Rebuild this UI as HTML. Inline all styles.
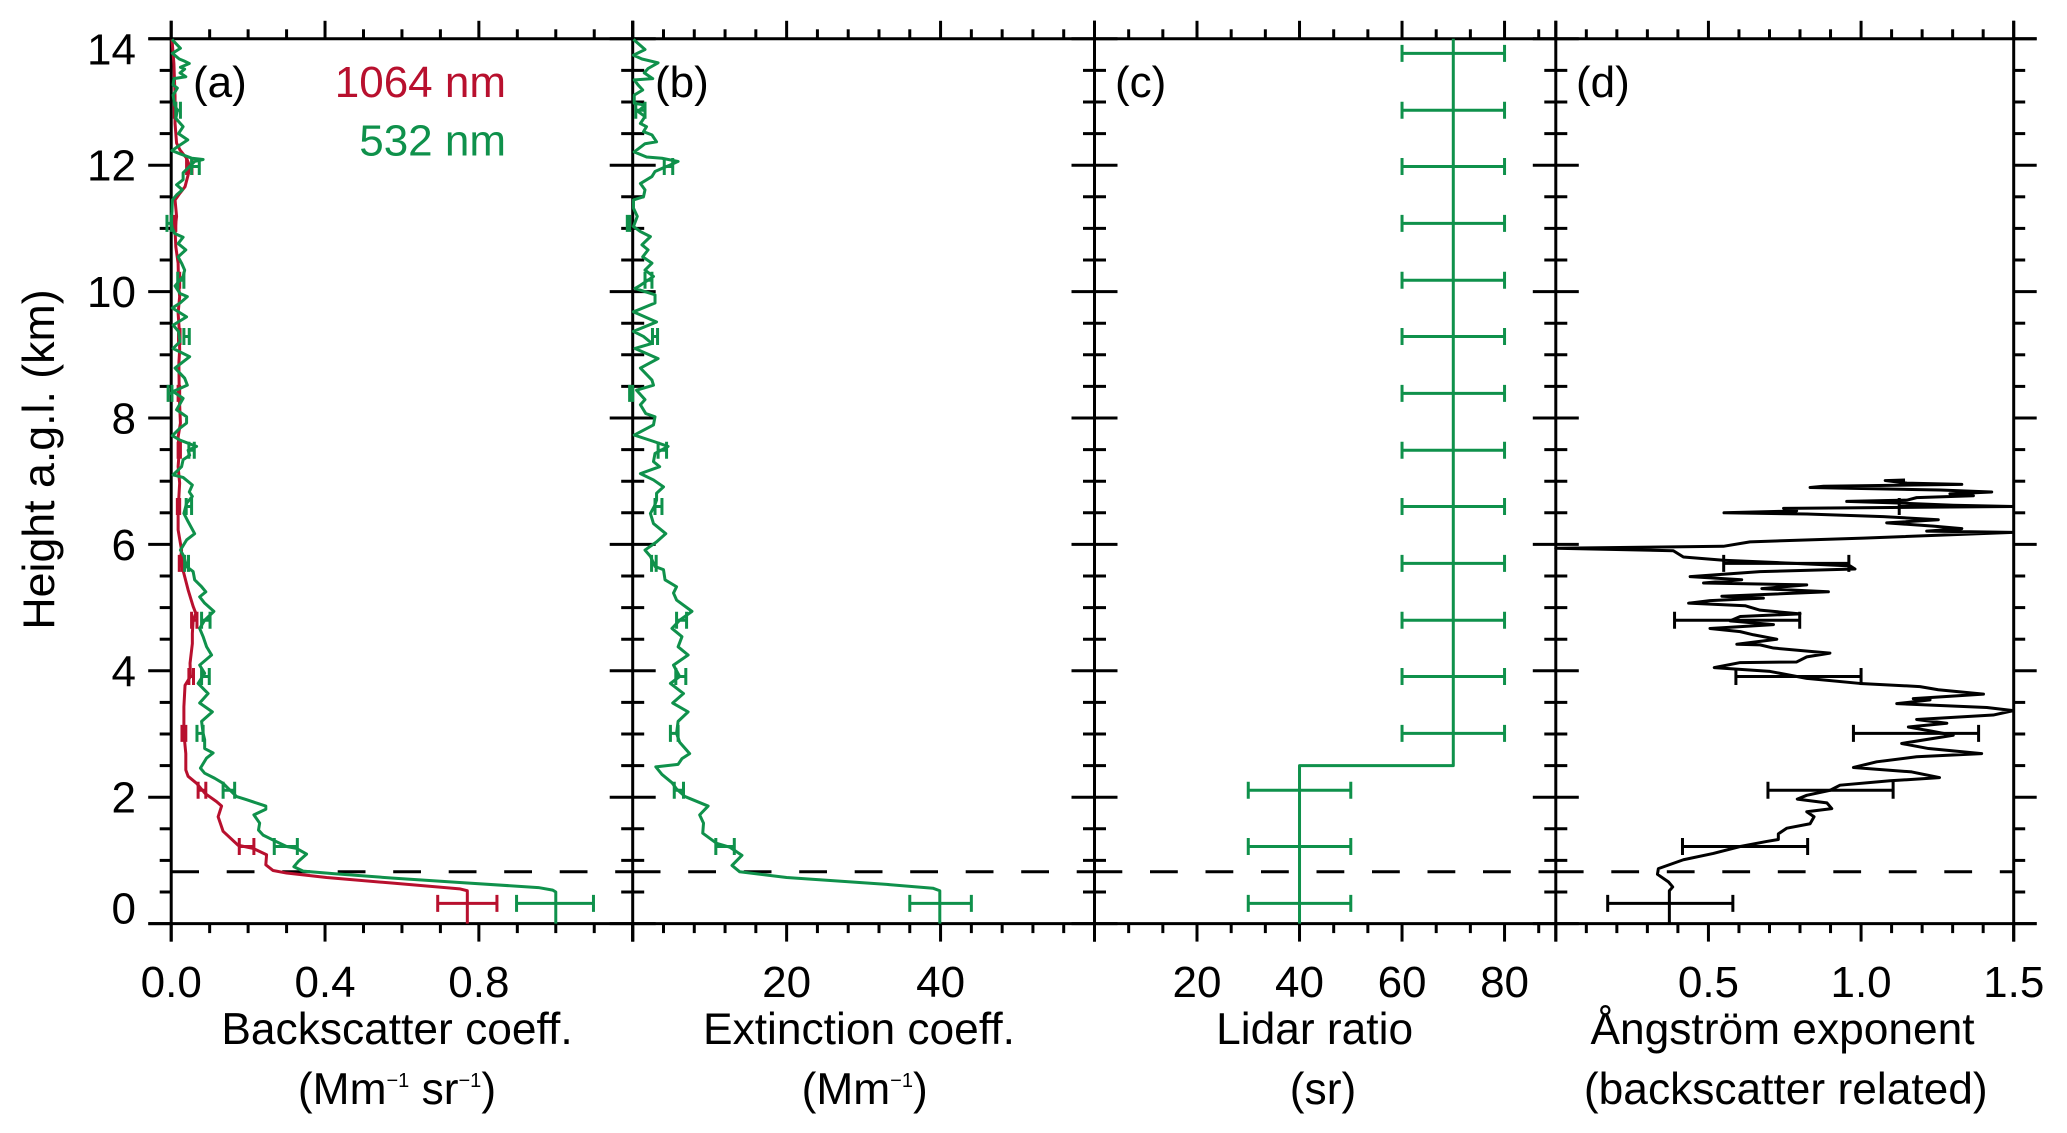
<!DOCTYPE html>
<html lang="en">
<head>
<meta charset="utf-8">
<title>Lidar profiles</title>
<style>
html,body{margin:0;padding:0;background:#fff;width:2067px;height:1133px;overflow:hidden}
svg{display:block}
text{font-family:"Liberation Sans",Arial,sans-serif;fill:#000}
</style>
</head>
<body>
<svg id="chart" xmlns="http://www.w3.org/2000/svg" width="2067" height="1133" viewBox="0 0 2067 1133">
<rect width="2067" height="1133" fill="#fff"/>
<g id="axes"></g>
<g id="marks"></g>
<g id="ticklabels"></g>

<text transform="translate(54,459.5) rotate(-90)" text-anchor="middle" font-size="44.7">Height a.g.l. (km)</text>

<text transform="translate(193,97)" font-size="44">(a)</text>
<text transform="translate(655,97)" font-size="44">(b)</text>
<text transform="translate(1115,97)" font-size="44">(c)</text>
<text transform="translate(1576,97)" font-size="44">(d)</text>

<text transform="translate(506,97)" text-anchor="end" font-size="44" style="fill:#b8102e">1064 nm</text>
<text transform="translate(506,155.5)" text-anchor="end" font-size="44" style="fill:#0f914b">532 nm</text>

<text transform="translate(397,1044)" text-anchor="middle" font-size="44.3">Backscatter coeff.</text>
<text transform="translate(397,1104)" text-anchor="middle" font-size="44.3">(Mm<tspan font-size="20" dy="-17">−1</tspan><tspan dy="17"> sr</tspan><tspan font-size="20" dy="-17">−1</tspan><tspan dy="17">)</tspan></text>
<text transform="translate(859,1044)" text-anchor="middle" font-size="44.3">Extinction coeff.</text>
<text transform="translate(864.7,1104)" text-anchor="middle" font-size="44.3">(Mm<tspan font-size="20" dy="-17">−1</tspan><tspan dy="17">)</tspan></text>
<text transform="translate(1314.6,1044)" text-anchor="middle" font-size="44.3">Lidar ratio</text>
<text transform="translate(1323,1104)" text-anchor="middle" font-size="44.3">(sr)</text>
<text transform="translate(1782.5,1044)" text-anchor="middle" font-size="44.3">Ångström exponent</text>
<text transform="translate(1785.8,1104)" text-anchor="middle" font-size="44.3">(backscatter related)</text>
</svg>

<script>
// ---- data ----
const yMajorTicks = [0, 2, 4, 6, 8, 10, 12, 14];
const yMinorTicks = [0.5, 1, 1.5, 2.5, 3, 3.5, 4.5, 5, 5.5, 6.5, 7, 7.5, 8.5, 9, 9.5, 10.5, 11, 11.5, 12.5, 13, 13.5];
const boundaryLayerTop = 0.82;

const xTicksA = [0, 0.4, 0.8, 1.2];
const xTicksB = [0, 20, 40, 60];
const xTicksC = [0, 20, 40, 60, 80];
const xTicksD = [0, 0.5, 1.0, 1.5];
const xLabelsA = ["0.0", "0.4", "0.8", ""];
const xLabelsB = ["", "20", "40", ""];
const xLabelsC = ["", "20", "40", "60", "80"];
const xLabelsD = ["", "0.5", "1.0", "1.5"];

const h532 = [13.99,13.85,13.77,13.68,13.65,13.61,13.55,13.52,13.46,13.40,13.37,13.27,13.22,13.11,12.95,12.87,12.74,12.61,12.50,12.40,12.32,12.23,12.18,12.11,12.09,12.06,11.98,11.88,11.77,11.69,11.61,11.53,11.45,11.27,11.11,11.00,10.92,10.86,10.76,10.66,10.55,10.45,10.34,10.24,10.09,9.97,9.92,9.82,9.74,9.60,9.47,9.37,9.21,9.10,8.97,8.79,8.63,8.52,8.42,8.31,8.13,8.02,7.92,7.84,7.72,7.65,7.57,7.55,7.49,7.41,7.34,7.23,7.10,7.06,6.94,6.83,6.76,6.65,6.49,6.36,6.17,6.07,5.91,5.81,5.65,5.57,5.44,5.33,5.25,5.17,5.07,4.94,4.80,4.67,4.54,4.38,4.25,4.09,3.96,3.80,3.64,3.49,3.35,3.20,3.01,2.91,2.77,2.70,2.62,2.46,2.38,2.30,2.22,2.14,2.01,1.96,1.86,1.81,1.72,1.59,1.48,1.40,1.31,1.22,1.19,1.10,0.98,0.90,0.83,0.79,0.72,0.65,0.57,0.53,0.50,0];
const beta532 = [0.002,0.024,0.003,0.021,0.033,0.047,0.024,0.035,0.023,0.038,0.007,0.005,0.016,0.005,0.009,0.016,0.012,0.031,0.019,0.043,0.023,0.002,0.023,0.054,0.083,0.061,0.048,0.031,0.031,0.014,0.029,0.014,0.003,0.002,0.000,0.003,0.009,0.031,0.018,0.038,0.018,0.027,0.035,0.031,0.010,0.023,0.042,0.023,0.003,0.040,0.005,0.019,0.023,0.005,0.048,0.010,0.035,0.042,0.005,0.031,0.014,0.040,0.040,0.023,0.003,0.023,0.057,0.066,0.044,0.048,0.031,0.027,0.005,0.031,0.055,0.047,0.055,0.040,0.033,0.044,0.061,0.040,0.024,0.033,0.040,0.057,0.061,0.079,0.090,0.074,0.087,0.111,0.087,0.074,0.083,0.092,0.105,0.074,0.087,0.070,0.096,0.074,0.107,0.079,0.083,0.087,0.087,0.109,0.092,0.076,0.087,0.113,0.135,0.148,0.170,0.196,0.246,0.246,0.215,0.230,0.227,0.239,0.269,0.300,0.326,0.352,0.330,0.319,0.343,0.421,0.577,0.750,0.955,0.992,1.0,1.0];

const h1064 = [13.99,13.61,13.09,12.66,12.35,12.24,12.11,12.0,11.87,11.66,11.56,11.45,11.19,10.98,10.71,10.45,10.13,9.92,9.66,9.39,9.08,8.87,8.34,7.92,7.70,7.49,7.23,6.97,6.54,6.23,5.91,5.75,5.54,5.28,5.02,4.91,4.80,4.59,4.43,4.12,3.91,3.77,3.43,3.01,2.69,2.43,2.33,2.22,2.06,1.93,1.86,1.69,1.46,1.24,1.19,1.09,0.93,0.84,0.80,0.73,0.64,0.55,0.52,0];
const beta1064 = [0.002,0.007,0.010,0.010,0.014,0.023,0.040,0.047,0.045,0.036,0.023,0.010,0.014,0.010,0.012,0.018,0.019,0.022,0.018,0.021,0.022,0.020,0.021,0.024,0.018,0.021,0.018,0.022,0.018,0.018,0.027,0.024,0.033,0.044,0.057,0.064,0.057,0.055,0.055,0.049,0.050,0.036,0.033,0.033,0.038,0.038,0.044,0.066,0.088,0.118,0.131,0.122,0.135,0.174,0.213,0.248,0.246,0.265,0.300,0.404,0.577,0.750,0.770,0.770];

const hExt = [13.99,13.83,13.74,13.68,13.62,13.53,13.46,13.37,13.35,13.27,13.19,13.11,12.98,12.95,12.85,12.77,12.66,12.61,12.53,12.48,12.37,12.34,12.21,12.13,12.11,12.06,12.0,11.96,11.9,11.82,11.71,11.61,11.5,11.45,11.32,11.19,11.03,10.95,10.87,10.74,10.66,10.55,10.45,10.34,10.24,10.10,10.05,9.95,9.82,9.68,9.52,9.37,9.29,9.18,9.10,8.94,8.79,8.6,8.52,8.44,8.29,8.21,8.07,8.02,7.89,7.73,7.63,7.55,7.44,7.31,7.23,7.12,7.02,6.91,6.81,6.70,6.60,6.49,6.33,6.17,6.04,5.91,5.81,5.65,5.60,5.44,5.33,5.23,5.12,4.94,4.80,4.67,4.54,4.38,4.25,4.09,3.91,3.80,3.64,3.49,3.35,3.20,3.01,2.87,2.69,2.61,2.52,2.48,2.36,2.23,2.13,2.01,1.86,1.72,1.59,1.43,1.27,1.21,1.08,0.92,0.82,0.73,0.62,0.56,0.52,0];
const extinction = [0.1,1.6,0.1,1.2,3.3,2.0,1.5,2.6,0.2,0.7,1.3,0.2,0.2,1.6,0.7,1.6,1.0,1.8,1.4,2.5,3.1,1.6,0.2,1.8,3.8,5.9,4.8,4.0,2.9,2.5,1.0,1.6,1.4,0.1,0.1,0.6,0.1,1.0,2.3,1.2,2.0,1.3,2.5,1.6,2.7,1.0,0.3,2.9,2.9,0.1,3.1,0.1,1.4,2.5,0.3,3.3,1.0,2.5,2.7,0.5,1.6,1.0,1.7,2.9,2.7,0.2,2.7,4.6,2.9,2.7,3.5,1.0,2.7,4.0,3.1,3.1,2.8,2.3,2.7,4.3,3.1,1.6,2.3,2.9,4.0,4.2,5.7,5.3,5.7,7.7,6.1,5.1,6.4,5.9,7.2,5.3,6.1,4.9,6.6,5.2,7.2,5.9,5.7,6.1,7.4,6.4,5.9,3.0,3.8,5.1,5.7,6.8,9.8,8.7,9.2,9.1,10.9,12.6,14.2,12.9,13.9,20.0,33.0,39.0,39.9,39.9];

const hRatio = [0, 2.5, 2.5, 14];
const lidarRatio = [40, 40, 70, 70];

const hAng = [7.02,7.01,6.97,6.95,6.92,6.90,6.86,6.83,6.80,6.77,6.74,6.70,6.68,6.65,6.62,6.60,6.57,6.53,6.50,6.48,6.44,6.39,6.34,6.29,6.25,6.21,6.19,6.10,6.04,5.97,5.94,5.90,5.80,5.75,5.71,5.66,5.61,5.57,5.49,5.44,5.39,5.36,5.30,5.25,5.18,5.15,5.11,5.07,5.03,4.96,4.90,4.86,4.79,4.73,4.67,4.62,4.57,4.50,4.42,4.41,4.36,4.28,4.22,4.14,4.13,4.05,3.99,3.88,3.80,3.75,3.70,3.63,3.56,3.54,3.48,3.42,3.37,3.30,3.23,3.17,3.11,3.05,2.98,2.85,2.77,2.69,2.64,2.56,2.47,2.40,2.31,2.26,2.19,2.11,2.03,1.97,1.91,1.82,1.77,1.69,1.58,1.51,1.42,1.33,1.30,1.22,1.11,1.01,0.87,0.78,0.66,0.58,0.52,0];
const angstrom = [1.144,1.079,1.150,1.330,0.877,0.833,1.259,1.428,1.291,1.368,1.182,1.150,0.953,1.150,1.302,1.499,0.746,0.789,0.551,0.822,1.073,1.253,1.084,1.237,1.330,1.215,1.499,1.008,0.636,0.549,0,0.385,0.418,0.549,0.735,0.964,0.980,0.669,0.440,0.609,0.484,0.822,0.675,0.893,0.544,0.680,0.505,0.435,0.620,0.669,0.800,0.604,0.571,0.713,0.505,0.604,0.647,0.724,0.593,0.669,0.713,0.898,0.822,0.789,0.604,0.519,0.702,0.822,0.997,1.193,1.253,1.401,1.171,1.226,1.117,1.412,1.499,1.433,1.182,1.281,1.155,1.226,1.302,1.133,1.221,1.395,1.182,1.051,0.975,1.166,1.257,1.095,0.931,0.899,0.822,0.791,0.888,0.904,0.822,0.846,0.833,0.757,0.729,0.729,0.691,0.604,0.516,0.418,0.336,0.333,0.369,0.383,0.372,0.372];

const errH = [0.32,1.22,2.11,3.01,3.91,4.80,5.70,6.60,7.49,8.39,9.29,10.18,11.08,11.98,12.87];
const beta532Center = [0.998,0.298,0.15,0.075,0.089,0.09,0.04,0.046,0.053,-0.003,0.04,0.025,-0.005,0.063,0.018];
const beta532Err = [0.10,0.03,0.015,0.008,0.010,0.011,0.005,0.007,0.007,0.005,0.007,0.008,0.006,0.010,0.006];
const beta1064Center = [0.77,0.196,0.08,0.033,0.052,0.06,0.025,0.019,0.021,0.02,0.021,0.02,0.01,0.047,0.01];
const beta1064Err = [0.077,0.019,0.01,0.005,0.006,0.007,0.004,0.003,0.003,0.002,0.002,0.002,0.002,0.007,0.002];
const extCenter = [40,12,6,5.4,6.25,6.35,2.75,3.35,3.85,-0.2,2.9,2.05,-0.55,4.65,1.0];
const extErr = [4,1.2,0.6,0.5,0.65,0.65,0.3,0.45,0.55,0.2,0.33,0.45,0.15,0.55,0.6];

const ratioErrH = [0.32,1.22,2.11,3.01,3.91,4.80,5.70,6.60,7.49,8.39,9.29,10.18,11.08,11.98,12.87,13.77];
const ratioCenter = [40,40,40,70,70,70,70,70,70,70,70,70,70,70,70,70];
const ratioErr = [10,10,10,10,10,10,10,10,10,10,10,10,10,10,10,10];

const angErrH = [0.32,1.22,2.11,3.01,3.91,4.80,5.70,6.60];
const angCenter = [0.375,0.62,0.90,1.18,0.795,0.594,0.755,1.33];
const angErr = [0.205,0.205,0.205,0.205,0.205,0.205,0.205,0.205];

// ---- layout ----
const NS = "http://www.w3.org/2000/svg";
const axes = document.getElementById("axes");
const marks = document.getElementById("marks");
const tickLabels = document.getElementById("ticklabels");
const RED = "#b8102e", GREEN = "#0f914b", BLACK = "#000";
const AXW = 3, LW = 3;
const Y0 = 923.6, PXKM = 63.2;
function yScale(h) { return Y0 - h * PXKM; }
const yTop = yScale(14);

function scaleFor(x0, x1, vmin, vmax) {
  return function (v) { return x0 + (v - vmin) / (vmax - vmin) * (x1 - x0); };
}
const panels = [
  { id: "a", x0: 171.2, x1: 632.7, sx: scaleFor(171.2, 632.7, 0, 1.2), ticks: xTicksA, labels: xLabelsA, minor: 0.1 },
  { id: "b", x0: 632.7, x1: 1094.5, sx: scaleFor(632.7, 1094.5, 0, 60), ticks: xTicksB, labels: xLabelsB, minor: 4 },
  { id: "c", x0: 1094.5, x1: 1555.8, sx: scaleFor(1094.5, 1555.8, 0, 90), ticks: xTicksC, labels: xLabelsC, minor: 20 / 3 },
  { id: "d", x0: 1555.8, x1: 2013.7, sx: scaleFor(1555.8, 2013.7, 0, 1.5), ticks: xTicksD, labels: xLabelsD, minor: 0.1 }
];

function mk(tag, attrs, parent) {
  const e = document.createElementNS(NS, tag);
  for (const k in attrs) e.setAttribute(k, attrs[k]);
  parent.appendChild(e);
  return e;
}
function axisLine(x1, y1, x2, y2, name) {
  const el = mk("line", { x1: x1, y1: y1, x2: x2, y2: y2, stroke: BLACK, "stroke-width": AXW }, axes);
  
  
}

// frame lines
axisLine(148.4, yTop, 2036.7, yTop, 'top-axis-line');
axisLine(148.4, Y0, 2036.7, Y0, 'bottom-axis-line');

panels.forEach(function (p, idx) {
  // left axis of the panel, including its long end ticks
  axisLine(p.x0, yTop - 18, p.x0, Y0 + 18, 'panel-' + p.id + '-left-axis');

  // y ticks
  const leftOnly = idx === 0;
  yMajorTicks.forEach(function (h) {
    axisLine(p.x0 - 23, yScale(h), leftOnly ? p.x0 : p.x0 + 23, yScale(h), 'y-major-tick');
  });
  yMinorTicks.forEach(function (h) {
    axisLine(p.x0 - 11.5, yScale(h), leftOnly ? p.x0 : p.x0 + 11.5, yScale(h), 'y-minor-tick');
  });

  // x ticks top and bottom
  const last = p.ticks[p.ticks.length - 1];
  const vEnd = (p.sx(last) >= p.x1 - 1) ? last : last + (p.id === "c" ? 10 : 0);
  for (let v = p.ticks[0] + p.minor; v < vEnd - 1e-6; v += p.minor) {
    const major = p.ticks.some(function (t) { return Math.abs(t - v) < 1e-6; });
    if (major) continue;
    const px = p.sx(v);
    axisLine(px, yTop - 9.5, px, yTop, 'x-minor-tick-top');
    axisLine(px, Y0, px, Y0 + 9.5, 'x-minor-tick-bottom');
  }
  p.ticks.forEach(function (t, i) {
    const px = p.sx(t);
    axisLine(px, yTop - 18, px, yTop, 'x-major-tick-top');
    axisLine(px, Y0, px, Y0 + 18, 'x-major-tick-bottom');
    if (p.labels[i]) {
      const lab = mk("text", { transform: "translate(" + px + ",997)", "text-anchor": "middle", "font-size": 44 }, tickLabels);
      lab.textContent = p.labels[i];
      
      
    }
  });

  // dashed boundary-layer line, one per panel
  const dash = mk("line", { x1: p.x0, y1: yScale(boundaryLayerTop), x2: p.x1, y2: yScale(boundaryLayerTop), stroke: BLACK, "stroke-width": AXW, "stroke-dasharray": "27.8 27.7" }, axes);
  
  
});

// right axis of panel d
const pd = panels[3];
axisLine(pd.x1, yTop - 18, pd.x1, Y0 + 18, 'panel-d-right-axis');
yMajorTicks.forEach(function (h) {
  axisLine(pd.x1, yScale(h), pd.x1 + 23, yScale(h), 'y-major-tick-right');
});
yMinorTicks.forEach(function (h) {
  axisLine(pd.x1, yScale(h), pd.x1 + 11.5, yScale(h), 'y-minor-tick-right');
});

// y tick labels: the 14 and 0 labels sit inside the axis range
yMajorTicks.forEach(function (h) {
  let cy = yScale(h);
  if (h === 14) cy += 10;
  if (h === 0) cy -= 15.5;
  const lab = mk("text", { transform: "translate(136," + (cy + 15.5) + ")", "text-anchor": "end", "font-size": 44 }, tickLabels);
  lab.textContent = String(h);
  
  
});

function drawLine(sx, hs, vs, color, name) {
  let d = "";
  for (let i = 0; i < hs.length; i++) {
    d += (i ? "L" : "M") + sx(vs[i]).toFixed(2) + " " + yScale(hs[i]).toFixed(2);
  }
  const el = mk("path", { d: d, fill: "none", stroke: color, "stroke-width": LW, "stroke-linejoin": "round" }, marks);
  
  
}
function drawErrors(sx, hs, cs, es, color, name) {
  const g = mk("g", { stroke: color, "stroke-width": LW, fill: "none" }, marks);
  
  
  for (let i = 0; i < hs.length; i++) {
    const y = yScale(hs[i]);
    const lo = sx(cs[i] - es[i]);
    const hi = Math.min(sx(cs[i] + es[i]), panelRight(sx));
    const bar = mk("path", { d: "M" + lo + " " + y + "L" + hi + " " + y + "M" + lo + " " + (y - 8.5) + "V" + (y + 8.5) + (sx(cs[i] + es[i]) <= panelRight(sx) ? "M" + hi + " " + (y - 8.5) + "V" + (y + 8.5) : "") }, g);
    
    
  }
}
function panelRight(sx) {
  const p = panels.find(function (q) { return q.sx === sx; });
  return p.x1;
}

const sa = panels[0].sx, sb = panels[1].sx, sc = panels[2].sx, sd = panels[3].sx;
drawLine(sa, h1064, beta1064, RED, 'backscatter-1064-line');
drawErrors(sa, errH, beta1064Center, beta1064Err, RED, 'backscatter-1064-errors');
drawLine(sa, h532, beta532, GREEN, 'backscatter-532-line');
drawErrors(sa, errH, beta532Center, beta532Err, GREEN, 'backscatter-532-errors');
drawLine(sb, hExt, extinction, GREEN, 'extinction-532-line');
drawErrors(sb, errH, extCenter, extErr, GREEN, 'extinction-532-errors');
drawLine(sc, hRatio, lidarRatio, GREEN, 'lidar-ratio-line');
drawErrors(sc, ratioErrH, ratioCenter, ratioErr, GREEN, 'lidar-ratio-errors');
drawLine(sd, hAng, angstrom, BLACK, 'angstrom-line');
drawErrors(sd, angErrH, angCenter, angErr, BLACK, 'angstrom-errors');
</script>
</body>
</html>
